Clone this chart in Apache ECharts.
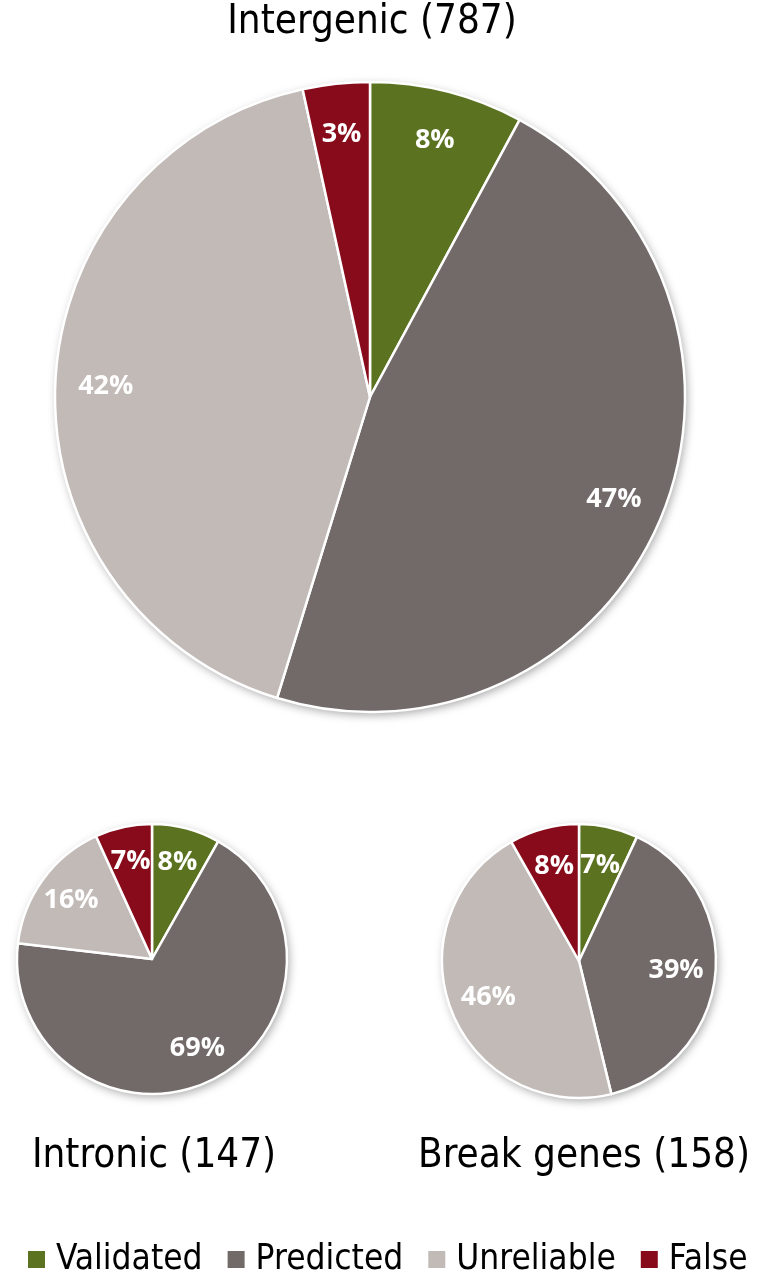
<!DOCTYPE html>
<html><head><meta charset="utf-8">
<script src="https://cdn.jsdelivr.net/npm/echarts@6/dist/echarts.min.js"></script>
<style>html,body{margin:0;padding:0;background:#fff}#c{width:760px;height:1278px}</style>
</head><body><div id="c"></div>
<script>
const categories = ['Validated', 'Predicted', 'Unreliable', 'False'];
const colors = ['#5b7220', '#726a69', '#c1bab7', '#880b1b'];
const chartTitles = ['Intergenic (787)', 'Intronic (147)', 'Break genes (158)'];
// counts (totals as in titles)
const intergenic = [62, 369, 329, 27];
const intronic = [12, 101, 24, 10];
const breakGenes = [11, 62, 72, 13];
// percentage labels as printed on the slices
const intergenicLabels = ['8%', '47%', '42%', '3%'];
const intronicLabels = ['8%', '69%', '16%', '7%'];
const breakGenesLabels = ['7%', '39%', '46%', '8%'];

const FONT = "'DejaVu Sans Condensed', 'Liberation Sans Narrow', 'Open Sans', sans-serif";
const LABEL_FONT = "'Open Sans', sans-serif";

const pies = [
  { values: intergenic, labels: intergenicLabels, center: [370, 397], r: 315, labelK: 0.83, title: [367, -2] },
  { values: intronic, labels: intronicLabels, center: [152, 959], r: 135, labelK: 0.72, title: [149, 1132] },
  { values: breakGenes, labels: breakGenesLabels, center: [579, 961], r: 137, labelK: 0.69, title: [579, 1132] }
];

const series = [];
pies.forEach((p, i) => {
  const total = p.values.reduce((a, b) => a + b, 0);
  series.push({
    type: 'pie', silent: true, center: p.center, radius: p.r, z: 1,
    label: { show: false }, labelLine: { show: false },
    itemStyle: { color: '#ffffff', shadowBlur: 10, shadowColor: 'rgba(0,0,0,0.35)', shadowOffsetX: 2, shadowOffsetY: 3 },
    data: [{ value: total, name: '' }]
  });
  series.push({
    type: 'pie', center: p.center, radius: p.r, startAngle: 90, clockwise: true, z: 2,
    label: { show: false }, labelLine: { show: false },
    itemStyle: { borderColor: '#ffffff', borderWidth: 2.5 },
    emphasis: { disabled: true },
    data: categories.map((c, j) => ({ name: c, value: p.values[j], itemStyle: { color: colors[j] } }))
  });
  const r0 = (2 * p.labelK - 1) * p.r;
  series.push({
    type: 'pie', center: p.center, radius: [r0, p.r], startAngle: 90, clockwise: true, z: 3,
    silent: true, legendHoverLink: false,
    itemStyle: { color: 'rgba(0,0,0,0)', borderWidth: 0 },
    labelLine: { show: false },
    emphasis: { disabled: true },
    label: {
      show: true, position: 'inside', color: '#ffffff', fontFamily: LABEL_FONT,
      fontWeight: 'bold', fontSize: 27, formatter: (d) => p.labels[d.dataIndex]
    },
    data: categories.map((c, j) => ({ name: c, value: p.values[j] }))
  });
});

const chart = echarts.init(document.getElementById('c'), null, { renderer: 'canvas' });
chart.setOption({
  backgroundColor: '#ffffff',
  animation: false,
  title: pies.map((p, i) => ({
    text: chartTitles[i], left: p.title[0], top: p.title[1], textAlign: 'center',
    textStyle: { fontFamily: FONT, fontWeight: 'normal', fontSize: 40, color: '#000000' }
  })),
  legend: {
    data: categories, left: 26, top: 1242, padding: 0,
    itemWidth: 19, itemHeight: 19, itemGap: 23,
    icon: 'rect', selectedMode: false,
    textStyle: { fontFamily: FONT, fontSize: 35, color: '#000000', padding: [0, 0, 0, 5] }
  },
  series: series
});
</script></body></html>
